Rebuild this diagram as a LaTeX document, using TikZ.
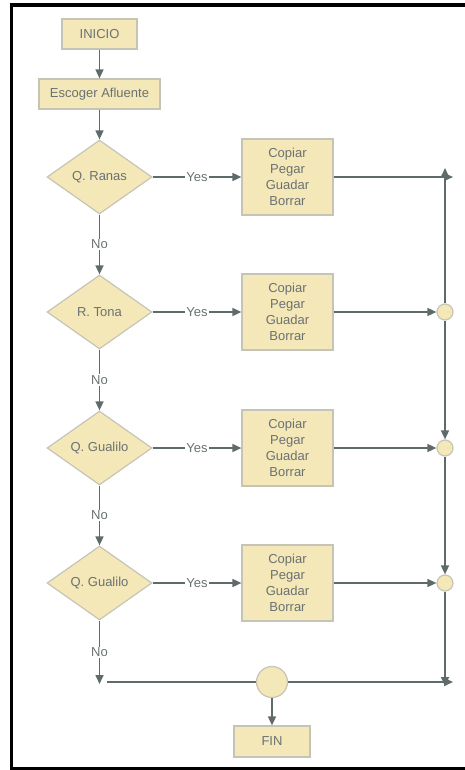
\documentclass[tikz,border=0pt]{standalone}
\usepackage{fontspec}
\setmainfont{Liberation Sans}
\usepackage{tikz}
\usetikzlibrary{arrows.meta,shapes.geometric}
\definecolor{flowfill}{HTML}{F4E7B8}
\definecolor{flowedge}{HTML}{C6C4B6}
\definecolor{flowline}{HTML}{5F6B6B}
\definecolor{flowtext}{HTML}{6A7272}
\newcommand{\tareas}{Copiar\\Pegar\\Guadar\\Borrar}

\begin{document}
\begin{tikzpicture}[x=1pt, y=-1pt, font=\fontsize{13}{16}\selectfont, text=flowtext,
  paso/.style={draw=flowedge, fill=flowfill, line width=1.2pt, minimum height=30pt,
    inner sep=0pt, align=center},
  decision/.style={diamond, draw=flowedge, fill=flowfill, line width=1.2pt,
    minimum width=105pt, minimum height=74pt, inner sep=0pt},
  union/.style={circle, draw=flowedge, fill=flowfill, line width=1.2pt, inner sep=0pt},
  linea/.style={draw=flowline, line width=1.6pt},
  flecha/.style={linea, -{Triangle[length=9pt,width=8pt]}},
  etiq/.style={fill=white, inner sep=1pt}]
  \useasboundingbox (0,0) rectangle (464,770);
  \draw[line width=3.5pt] (11.5,5) rectangle (480,768.5);

  \node[paso, minimum width=75pt] (inicio) at (99.5,34) {INICIO};
  \node[paso, minimum width=121pt] (escoger) at (99.5,94) {Escoger Afluente};
  \draw[flecha] (inicio) -- (escoger);

  % one row per afluente: decision, tareas, Yes
  \foreach \i/\y/\txt in {1/177/Q. Ranas, 2/312/R. Tona, 3/448/Q. Gualilo, 4/583/Q. Gualilo}{
    \node[decision] (d\i) at (99.5,\y) {\txt};
    \node[paso, minimum width=91pt, minimum height=76pt] (b\i) at (287.5,\y) {\tareas};
    \draw[flecha] (d\i) -- node[etiq] {Yes} (b\i);
  }
  \draw[flecha] (escoger) -- (d1);
  \draw[flecha] (d1) -- node[etiq] {No} (d2);
  \draw[flecha] (d2) -- node[etiq] {No} (d3);
  \draw[flecha] (d3) -- node[etiq] {No} (d4);
  \coordinate (n4) at (99.5,684);
  \draw[flecha] (d4) -- node[etiq] {No} (n4);

  % colector on the right
  \node[union, minimum size=16pt] (c2) at (445,312) {};
  \node[union, minimum size=16pt] (c3) at (445,448) {};
  \node[union, minimum size=16pt] (c4) at (445,583) {};
  \coordinate (s1) at (453,177);
  \coordinate (k1) at (445,168);
  \coordinate (k5) at (445,686);
  \draw[flecha] (b1) -- (s1);
  \draw[flecha] (b2) -- (c2);
  \draw[flecha] (b3) -- (c3);
  \draw[flecha] (b4) -- (c4);
  \draw[flecha] (c2) -- (k1);
  \draw[flecha] (c2) -- (c3);
  \draw[flecha] (c3) -- (c4);
  \draw[flecha] (c4) -- (k5);

  % bottom line and end
  \coordinate (t0) at (107,682);
  \coordinate (t1) at (453,682);
  \node[union, minimum size=31pt] (une) at (272,682) {};
  \node[paso, minimum width=76pt, minimum height=31pt] (fin) at (272,741.5) {FIN};
  \draw[linea] (t0) -- (une);
  \draw[flecha] (une) -- (t1);
  \draw[flecha] (une) -- (fin);
\end{tikzpicture}
\end{document}
